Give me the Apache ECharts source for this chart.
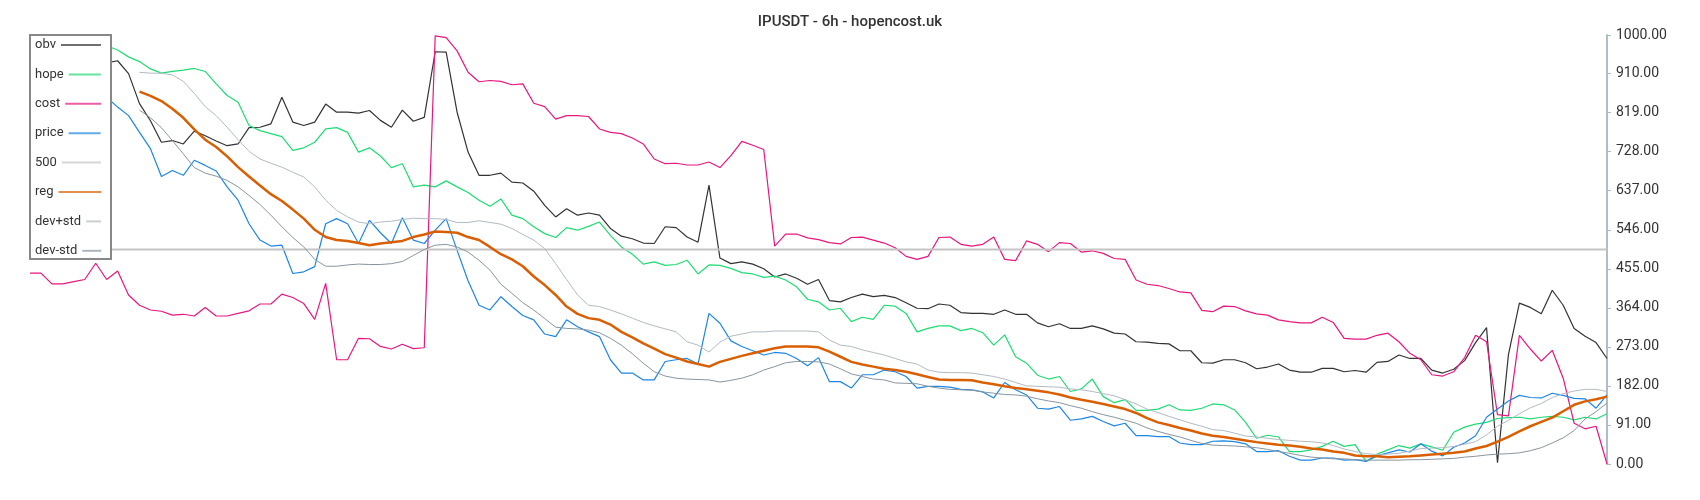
<!DOCTYPE html>
<html>
<head>
<meta charset="utf-8">
<title>IPUSDT - 6h</title>
<script src="https://cdn.jsdelivr.net/npm/echarts@6/dist/echarts.min.js"></script>
<style>
    html, body { margin: 0; padding: 0; background: #fff; }
    #chart { width: 1700px; height: 500px; }
</style>
</head>
<body>
<div id="chart"></div>
<script>
// values, one sample every ~11px
const obv = [960, 955, 965, 958, 950, 962, 945, 935, 940, 910, 840, 800, 750, 754, 746, 776, 765, 753, 742, 746, 784, 785, 793, 855, 797, 789, 797, 839, 820, 820, 818, 824,
    801, 785, 825, 799, 808, 961, 960, 820, 727, 673, 673, 678, 657, 655, 636, 603, 576, 595, 580, 585, 580, 549, 531,
    525, 515, 514, 553, 551, 529, 517, 650, 480, 467, 471, 466, 455, 436, 443, 433, 419, 430, 381, 378, 388, 396, 390, 393,
    388, 376, 363, 362, 373, 370, 353, 351, 351, 349, 359, 349, 349, 329, 320, 327, 316, 316, 322, 315, 305, 303, 285, 284,
    281, 280, 264, 264, 236, 235, 243, 243, 236, 222, 226, 233, 219, 214, 214, 223, 223, 215, 218, 214, 237, 239, 254, 246,
    246, 219, 212, 221, 241, 283, 318, 3, 255, 375, 365, 350, 405, 370, 316, 298, 283, 246];

const hope = [990, 985, 988, 982, 985, 980, 978, 975, 965, 949, 938, 921, 911, 915, 918, 922, 915, 886, 859, 843, 789, 777, 770, 763, 731, 737, 750, 781, 784, 773, 727, 737,
    718, 691, 700, 646, 650, 646, 660, 646, 633, 615, 601, 618, 580, 572, 553, 537, 528, 551, 545, 554, 564, 533, 506,
    489, 466, 471, 463, 465, 475, 443, 464, 463, 456, 446, 443, 435, 438, 429, 413, 384, 378, 359, 363, 332, 342, 337, 370,
    368, 351, 308, 316, 322, 322, 311, 316, 306, 277, 301, 250, 235, 207, 198, 204, 169, 175, 198, 157, 143, 150, 125, 125,
    128, 138, 126, 125, 130, 140, 138, 126, 97, 60, 67, 63, 29, 29, 33, 41, 53, 41, 45, 6, 23, 33, 43, 37,
    47, 40, 32, 74, 86, 93, 97, 106, 108, 109, 105, 109, 111, 109, 103, 109, 105, 117];

const cost = [445, 445, 420, 420, 425, 430, 468, 430, 450, 394, 370, 359, 356, 347, 349, 345, 365, 345, 345, 351, 357, 373, 373, 396, 388, 374, 337, 421, 243, 243, 293, 292,
    274, 268, 279, 269, 271, 998, 994, 963, 913, 891, 894, 892, 884, 886, 841, 833, 804, 812, 812, 810, 781, 773, 770,
    760, 746, 711, 700, 701, 697, 697, 704, 691, 719, 752, 743, 733, 508, 536, 536, 527, 523, 516, 513, 528, 529, 522, 515,
    504, 484, 477, 484, 528, 529, 512, 508, 512, 529, 477, 474, 520, 512, 495, 516, 514, 494, 497, 491, 479, 477, 429, 419,
    416, 409, 401, 399, 358, 355, 368, 367, 357, 350, 347, 336, 332, 329, 329, 342, 330, 293, 291, 291, 300, 305, 285, 258,
    243, 208, 205, 215, 248, 300, 285, 115, 112, 300, 268, 240, 265, 200, 95, 82, 88, 0];

const price = [880, 875, 885, 870, 878, 865, 860, 855, 832, 812, 773, 735, 670, 684, 673, 708, 696, 683, 646, 615, 560, 522, 508, 510, 444, 448, 460, 560, 572, 560, 514, 568,
    539, 514, 574, 522, 514, 545, 572, 498, 427, 370, 359, 390, 367, 346, 336, 303, 297, 336, 320, 308, 297, 243, 212,
    212, 196, 196, 239, 243, 246, 233, 351, 328, 287, 274, 264, 254, 260, 258, 246, 229, 248, 192, 192, 177, 208, 208, 219,
    215, 204, 177, 181, 181, 179, 174, 173, 168, 154, 190, 173, 161, 130, 128, 134, 102, 105, 111, 99, 89, 95, 66, 66,
    64, 64, 49, 45, 45, 53, 54, 52, 47, 29, 29, 31, 18, 9, 9, 14, 14, 9, 10, 6, 19, 26, 33, 28,
    47, 30, 19, 39, 49, 66, 109, 128, 147, 160, 155, 154, 165, 160, 153, 152, 130, 161];

const level = 500;

// regression + band start after the first 10 samples
const reg = [null, null, null, null, null, null, null, null, null, null,
    868, 858, 846, 828, 807, 780, 756, 739, 717, 692, 670, 649, 629, 613, 593, 572, 546, 529, 522, 520, 515, 510,
    514, 517, 520, 529, 535, 542, 541, 539, 529, 522, 506, 489, 477, 461, 437, 417, 394, 367, 350, 340, 336, 325, 308,
    295, 281, 269, 256, 248, 239, 233, 227, 238, 245, 252, 258, 264, 270, 274, 274, 274, 272, 262, 250, 238, 232, 227, 222,
    219, 215, 209, 203, 197, 196, 196, 195, 190, 186, 181, 177, 174, 171, 167, 162, 155, 150, 145, 140, 134, 128, 119, 107,
    97, 91, 84, 78, 71, 66, 63, 59, 55, 51, 48, 45, 43, 40, 36, 34, 29, 26, 20, 18, 18, 16, 17, 18,
    20, 22, 24, 26, 29, 36, 42, 52, 63, 76, 88, 98, 108, 123, 138, 146, 151, 157];

const devUp = [null, null, null, null, null, null, null, null, null, null,
    913, 911, 911, 907, 892, 864, 833, 812, 785, 756, 729, 711, 701, 692, 680, 669, 646, 615, 591, 576, 564, 560,
    564, 566, 570, 573, 572, 572, 570, 563, 563, 567, 563, 559, 549, 535, 522, 502, 467, 430, 394, 370, 367, 359, 350,
    340, 330, 322, 315, 308, 285, 277, 261, 284, 298, 303, 308, 308, 310, 310, 310, 310, 308, 289, 277, 274, 266, 260, 254,
    246, 238, 233, 219, 214, 213, 213, 212, 208, 204, 198, 190, 182, 181, 180, 179, 175, 173, 169, 164, 159, 150, 140, 128,
    120, 111, 103, 95, 88, 80, 78, 72, 65, 63, 60, 57, 55, 53, 52, 49, 43, 35, 29, 24, 22, 23, 25, 30,
    36, 37, 38, 41, 46, 52, 68, 88, 102, 117, 131, 141, 155, 164, 170, 174, 174, 169];

const devDn = [null, null, null, null, null, null, null, null, null, null,
    825, 807, 784, 754, 723, 691, 678, 671, 661, 646, 626, 605, 580, 553, 528, 506, 477, 461, 461, 464, 466, 465,
    465, 467, 472, 486, 500, 510, 512, 506, 494, 475, 452, 419, 398, 376, 359, 339, 319, 316, 315, 312, 306, 293, 277,
    257, 235, 215, 205, 200, 198, 197, 196, 191, 195, 200, 208, 219, 227, 236, 239, 239, 238, 233, 222, 210, 204, 198, 196,
    189, 188, 187, 181, 177, 174, 173, 172, 168, 165, 162, 161, 158, 152, 147, 143, 136, 130, 122, 115, 109, 102, 95, 84,
    76, 69, 63, 55, 48, 44, 43, 42, 40, 38, 34, 29, 25, 20, 16, 14, 12, 12, 10, 9, 9, 9, 9, 10,
    10, 11, 12, 13, 16, 18, 21, 23, 24, 26, 31, 38, 49, 61, 78, 105, 122, 142];

const candles = obv.map((v, i) => i);
const names = ['obv', 'hope', 'cost', 'price', '500', 'reg', 'dev+std', 'dev-std'];

let myChart = echarts.init(document.getElementById('chart'));

// each legend row gets its own line length so all icons end at the same x
const legendFont = '13px Roboto';
const ctx = document.createElement('canvas').getContext('2d');
ctx.font = legendFont;
let legends = names.map((name, k) => ({
    data: [name],
    left: 35,
    top: 38.5 + k * 29.4,
    orient: 'vertical',
    align: 'right',
    padding: 0,
    itemHeight: 14,
    itemWidth: Math.round(66 - ctx.measureText(name).width - 5),
    textStyle: { color: '#333', fontSize: 13, fontFamily: 'Roboto' },
    itemStyle: { opacity: 0 },   // hide the circle, keep the line
    lineStyle: { opacity: 0.7 },
    selectedMode: false,
    z: 6
}));

function line(name, data, color, width) {
    return {
        name: name,
        type: 'line',
        data: data,
        symbol: 'none',
        connectNulls: false,
        lineStyle: { color: color, width: width },
        itemStyle: { color: color }
    };
}

let option = {
    animation: false,
    backgroundColor: '#fff',
    title: {
        text: 'IPUSDT - 6h - hopencost.uk',
        left: 'center',
        top: 10,
        textStyle: { color: '#333', fontSize: 15, fontWeight: 500, fontFamily: 'Roboto' }
    },
    legend: legends,
    graphic: [{
        type: 'rect',
        z: 5,
        shape: { x: 30, y: 35, width: 81, height: 224 },
        style: { fill: '#fff', stroke: '#888', lineWidth: 2 }
    }],
    grid: { left: 30, right: 93, top: 35, bottom: 36 },
    xAxis: {
        type: 'category',
        data: candles,
        boundaryGap: false,
        show: false
    },
    yAxis: {
        type: 'value',
        position: 'right',
        min: 0,
        max: 1000,
        interval: 91,
        axisLine: { show: true, lineStyle: { color: '#b3bcc4', width: 2 } },
        axisTick: { show: true, length: 4, lineStyle: { color: '#b3bcc4' } },
        axisLabel: {
            margin: 9,
            color: '#333',
            fontSize: 14,
            fontFamily: 'Roboto',
            formatter: v => v.toFixed(2)
        },
        splitLine: { show: false }
    },
    series: [
        line('obv', obv, '#333333', 1.2),
        line('hope', hope, '#1fdc74', 1.2),
        line('cost', cost, '#e6177f', 1.2),
        line('price', price, '#1e86e3', 1.2),
        line('500', candles.map(() => level), '#c4c4c4', 2),
        line('dev+std', devUp, '#b2bbc3', 1),
        line('dev-std', devDn, '#8895a1', 1),
        line('reg', reg, '#d95f02', 2.5)
    ]
};

myChart.setOption(option, true);
</script>
</body>
</html>
